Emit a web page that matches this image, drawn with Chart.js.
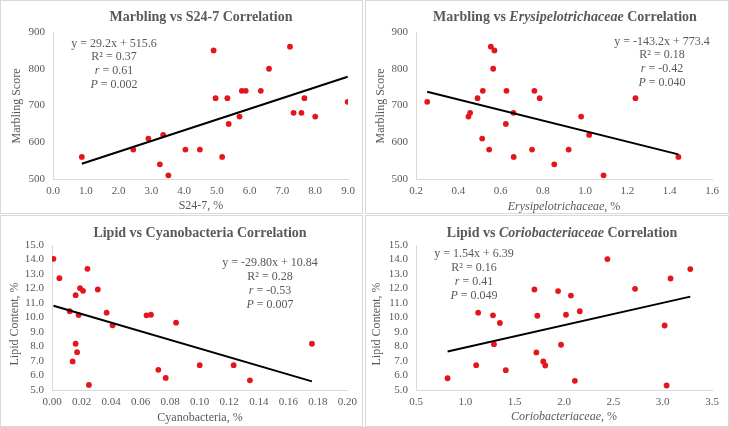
<!DOCTYPE html>
<html>
<head>
<meta charset="utf-8">
<script src="https://cdn.jsdelivr.net/npm/chart.js@4/dist/chart.umd.min.js"></script>
<style>
  body { margin: 0; background: #fff; }
  #wrap { position: relative; width: 729px; height: 427px; background: #fff; }
  canvas { position: absolute; }
</style>
</head>
<body>
<div id="wrap">
  <canvas id="c1" width="363" height="214" style="left:0;top:0"></canvas>
  <canvas id="c2" width="364" height="214" style="left:365px;top:0"></canvas>
  <canvas id="c3" width="363" height="212" style="left:0;top:215px"></canvas>
  <canvas id="c4" width="364" height="212" style="left:365px;top:215px"></canvas>
</div>
<script>
// marbling vs S24-7
const s247 = [0.88, 2.45, 2.91, 3.36, 3.26, 3.52, 4.04, 4.48, 4.90, 4.96, 5.16, 5.32, 5.36, 5.69, 5.76, 5.88, 6.34, 6.59, 7.23, 7.34, 7.58, 7.67, 8.00, 8.99];
const marblingA = [560, 580, 610, 620, 540, 510, 580, 580, 850, 720, 560, 720, 650, 670, 740, 740, 740, 800, 860, 680, 680, 720, 670, 710];
// marbling vs Erysipelotrichaceae
const erysip = [0.253, 0.448, 0.456, 0.491, 0.516, 0.513, 0.546, 0.554, 0.571, 0.565, 0.628, 0.625, 0.661, 0.662, 0.749, 0.760, 0.785, 0.854, 0.922, 0.981, 1.019, 1.087, 1.238, 1.441];
const marblingB = [710, 670, 680, 720, 740, 610, 580, 860, 850, 800, 740, 650, 680, 560, 580, 740, 720, 540, 580, 670, 620, 510, 720, 560];
// lipid vs Cyanobacteria
const cyano = [0.001, 0.005, 0.012, 0.014, 0.016, 0.016, 0.017, 0.018, 0.019, 0.021, 0.024, 0.025, 0.031, 0.037, 0.041, 0.064, 0.067, 0.072, 0.077, 0.084, 0.100, 0.123, 0.134, 0.176];
const lipidC = [14.05, 12.71, 10.43, 6.97, 11.54, 8.19, 7.61, 10.17, 12.02, 11.84, 13.36, 5.35, 11.93, 10.33, 9.46, 10.15, 10.19, 6.39, 5.83, 9.64, 6.71, 6.71, 5.67, 8.19];
// lipid vs Coriobacteriaceae
const corio = [0.82, 1.11, 1.13, 1.28, 1.29, 1.35, 1.41, 1.70, 1.72, 1.73, 1.79, 1.81, 1.94, 1.97, 2.02, 2.07, 2.11, 2.16, 2.44, 2.72, 3.02, 3.04, 3.08, 3.28];
const lipidD = [5.81, 6.71, 10.33, 10.15, 8.16, 9.62, 6.37, 11.93, 7.59, 10.12, 6.97, 6.69, 11.82, 8.12, 10.19, 11.51, 5.63, 10.43, 14.03, 11.98, 9.45, 5.31, 12.69, 13.34];

// trendline slope / intercept
const fitA = [29.2, 515.6];
const fitB = [-143.2, 773.4];
const fitC = [-29.80, 10.84];
const fitD = [1.54, 6.39];

// axis ranges: min, max, step, decimals
const xRangeA = [0, 9, 1, 1];
const xRangeB = [0.2, 1.6, 0.2, 1];
const xRangeC = [0, 0.2, 0.02, 2];
const xRangeD = [0.5, 3.5, 0.5, 1];
const yRangeMarbling = [500, 900, 100, 0];
const yRangeLipid = [5, 15, 1, 1];

const GREY = '#595959';
const SERIF = '"Liberation Serif", "Times New Roman", serif';
const font = (style, size) => `${style} ${size}px ${SERIF}`;

// draw mixed-style text centred on cx
function drawRich(ctx, segs, cx, cy, size, base) {
  let total = 0;
  segs.forEach(s => { ctx.font = font((base + ' ' + (s[1] || '')).trim(), size); total += ctx.measureText(s[0]).width; });
  let x = cx - total / 2;
  ctx.textBaseline = 'middle';
  ctx.textAlign = 'left';
  segs.forEach(s => {
    ctx.font = font((base + ' ' + (s[1] || '')).trim(), size);
    ctx.fillText(s[0], x, cy);
    x += ctx.measureText(s[0]).width;
  });
}

const decorPlugin = {
  id: 'decor',
  beforeDraw(chart) {
    const ctx = chart.ctx;
    ctx.save();
    ctx.fillStyle = '#fff';
    ctx.fillRect(0, 0, chart.width, chart.height);
    ctx.restore();
  },
  afterDraw(chart) {
    const p = chart.options.plugins.decor;
    const ctx = chart.ctx;
    ctx.save();
    ctx.strokeStyle = '#d9d9d9';
    ctx.lineWidth = 1;
    ctx.strokeRect(0.5, 0.5, chart.width - 1, chart.height - 1);
    ctx.fillStyle = GREY;
    drawRich(ctx, p.title, p.titleX, p.titleY, 14, 'bold');
    drawRich(ctx, p.xTitle, p.xTitleX, p.xTitleY, 12, '');
    p.eq.forEach((line, i) => drawRich(ctx, line, p.eqX, p.eqY + i * 13.8, 12, ''));
    ctx.translate(p.yTitleX, p.yTitleY);
    ctx.rotate(-Math.PI / 2);
    drawRich(ctx, [[p.yTitle, '']], 0, 0, 12, '');
    ctx.restore();
  }
};

function makePanel(id, xs, ys, fit, xr, yr, area, decor) {
  const canvas = document.getElementById(id);
  const W = canvas.width, H = canvas.height;
  const pts = xs.map((x, i) => ({ x: x, y: ys[i] }));
  const lo = Math.min(...xs), hi = Math.max(...xs);
  const trend = [{ x: lo, y: fit[0] * lo + fit[1] }, { x: hi, y: fit[0] * hi + fit[1] }];
  return new Chart(canvas.getContext('2d'), {
    type: 'scatter',
    data: {
      datasets: [
        { data: trend, showLine: true, borderColor: '#000', borderWidth: 2, pointRadius: 0, order: 0 },
        { data: pts, backgroundColor: '#e3161d', borderWidth: 0, pointRadius: 2.9, order: 1 }
      ]
    },
    options: {
      responsive: false,
      animation: false,
      events: [],
      layout: { padding: { left: 0, top: area.t, right: W - area.r, bottom: 0 } },
      plugins: { legend: { display: false }, tooltip: { enabled: false }, decor: decor },
      scales: {
        x: {
          type: 'linear', min: xr[0], max: xr[1],
          grid: { display: false, drawTicks: false },
          border: { color: '#d9d9d9' },
          ticks: { stepSize: xr[2], autoSkip: false, maxRotation: 0, padding: 6, color: GREY,
                   font: { family: SERIF, size: 11 }, callback: v => Number(v).toFixed(xr[3]) },
          afterFit: s => { s.height = H - area.b; }
        },
        y: {
          min: yr[0], max: yr[1],
          grid: { display: false, drawTicks: false },
          border: { color: '#d9d9d9' },
          ticks: { stepSize: yr[2], autoSkip: false, padding: 8, color: GREY,
                   font: { family: SERIF, size: 11 }, callback: v => Number(v).toFixed(yr[3]) },
          afterFit: s => { s.width = area.l; }
        }
      }
    },
    plugins: [decorPlugin]
  });
}

makePanel('c1', s247, marblingA, fitA, xRangeA, yRangeMarbling,
  { l: 53, r: 348, t: 32, b: 179 },
  { title: [['Marbling vs S24-7 Correlation', '']], titleX: 201, titleY: 17,
    xTitle: [['S24-7, %', '']], xTitleX: 201, xTitleY: 206,
    yTitle: 'Marbling Score', yTitleX: 17, yTitleY: 106,
    eq: [[['y = 29.2x + 515.6', '']], [['R² = 0.37', '']], [['r', 'italic'], [' = 0.61', '']], [['P', 'italic'], [' = 0.002', '']]],
    eqX: 114, eqY: 43.5 });

makePanel('c2', erysip, marblingB, fitB, xRangeB, yRangeMarbling,
  { l: 51, r: 347, t: 32, b: 179 },
  { title: [['Marbling vs ', ''], ['Erysipelotrichaceae', 'italic'], [' Correlation', '']], titleX: 200, titleY: 17,
    xTitle: [['Erysipelotrichaceae', 'italic'], [', %', '']], xTitleX: 199, xTitleY: 207,
    yTitle: 'Marbling Score', yTitleX: 16, yTitleY: 106,
    eq: [[['y = -143.2x + 773.4', '']], [['R² = 0.18', '']], [['r', 'italic'], [' = -0.42', '']], [['P', 'italic'], [' = 0.040', '']]],
    eqX: 297, eqY: 41.5 });

makePanel('c3', cyano, lipidC, fitC, xRangeC, yRangeLipid,
  { l: 52, r: 348, t: 30, b: 175 },
  { title: [['Lipid vs Cyanobacteria Correlation', '']], titleX: 200, titleY: 18,
    xTitle: [['Cyanobacteria, %', '']], xTitleX: 200, xTitleY: 203,
    yTitle: 'Lipid Content, %', yTitleX: 15, yTitleY: 109,
    eq: [[['y = -29.80x + 10.84', '']], [['R² = 0.28', '']], [['r', 'italic'], [' = -0.53', '']], [['P', 'italic'], [' = 0.007', '']]],
    eqX: 270, eqY: 48 });

makePanel('c4', corio, lipidD, fitD, xRangeD, yRangeLipid,
  { l: 51, r: 347, t: 30, b: 175 },
  { title: [['Lipid vs ', ''], ['Coriobacteriaceae', 'italic'], [' Correlation', '']], titleX: 197, titleY: 18,
    xTitle: [['Coriobacteriaceae', 'italic'], [', %', '']], xTitleX: 199, xTitleY: 202,
    yTitle: 'Lipid Content, %', yTitleX: 12, yTitleY: 109,
    eq: [[['y = 1.54x + 6.39', '']], [['R² = 0.16', '']], [['r', 'italic'], [' = 0.41', '']], [['P', 'italic'], [' = 0.049', '']]],
    eqX: 109, eqY: 39 });
</script>
</body>
</html>
